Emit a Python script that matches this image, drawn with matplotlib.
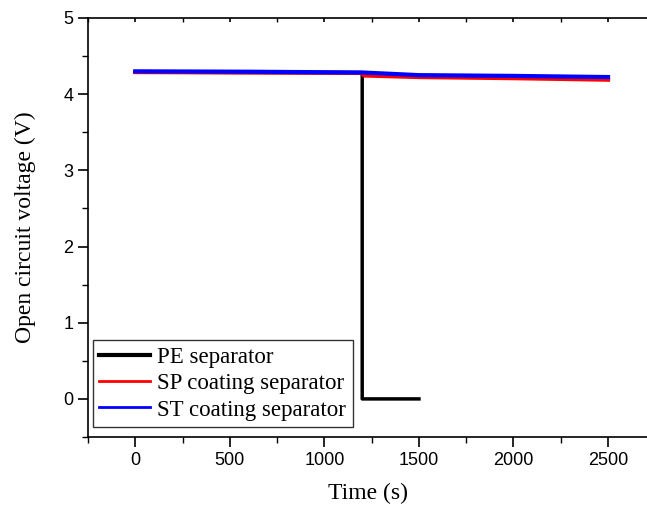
import numpy as np
import matplotlib.pyplot as plt
from matplotlib.ticker import MultipleLocator

pe_time = [0, 600, 1195, 1200, 1200, 1500]
pe_volt = [4.29, 4.285, 4.28, 4.26, 0.0, 0.0]

sp_time = [0, 600, 1195, 1210, 1500, 2000, 2500]
sp_volt = [4.29, 4.285, 4.28, 4.245, 4.225, 4.21, 4.19]

st_time = [0, 600, 1200, 1500, 2000, 2500]
st_volt = [4.30, 4.295, 4.285, 4.25, 4.24, 4.225]

serif = ['Liberation Serif', 'DejaVu Serif']
sans = ['Liberation Sans', 'DejaVu Sans']

fig = plt.figure(figsize=(6.47, 5.05), dpi=100)
ax = fig.add_axes([88/647, 68/505, 1 - 88/647, (437-18)/505])

ax.plot(pe_time, pe_volt, color='black', lw=2.5, label='PE separator')
ax.plot(sp_time, sp_volt, color='red', lw=3, label='SP coating separator')
ax.plot(st_time, st_volt, color='blue', lw=3, label='ST coating separator')

ax.set_xlim(-250, 2706)
ax.set_ylim(-0.5, 5)
ax.xaxis.set_major_locator(MultipleLocator(500))
ax.xaxis.set_minor_locator(MultipleLocator(250))
ax.yaxis.set_major_locator(MultipleLocator(1))
ax.yaxis.set_minor_locator(MultipleLocator(0.5))

ax.spines['right'].set_visible(False)
for s in ['left', 'bottom', 'top']:
    ax.spines[s].set_linewidth(1.2)

ax.tick_params(axis='both', which='major', direction='out', length=7, width=1.2,
               labelsize=13)
ax.tick_params(axis='both', which='minor', direction='out', length=4, width=1.0)
ax.tick_params(axis='x', which='both', top=True)
# top ticks are small and point inward
for t in ax.xaxis.get_major_ticks() + ax.xaxis.get_minor_ticks():
    t.tick2line.set_marker(3)
    t.tick2line.set_markersize(3)
for t in ax.get_xticklabels() + ax.get_yticklabels():
    t.set_fontfamily(sans)

ax.set_xlabel('Time (s)', fontsize=17, family=serif, labelpad=10)
ax.set_ylabel('Open circuit voltage (V)', fontsize=17, family=serif, labelpad=20)

leg = ax.legend(loc='lower left', bbox_to_anchor=(0.0, 0.012),
                prop={'family': serif, 'size': 16.5}, frameon=True, fancybox=False,
                borderpad=0.3, labelspacing=0.22, handlelength=2.2,
                handletextpad=0.3, borderaxespad=0.2)
leg.get_frame().set_edgecolor('black')
leg.get_frame().set_linewidth(1.0)
lw_leg = [3, 2, 2]
for h, w in zip(leg.get_lines(), lw_leg):
    h.set_linewidth(w)

fig.savefig('out.png', dpi=100)
